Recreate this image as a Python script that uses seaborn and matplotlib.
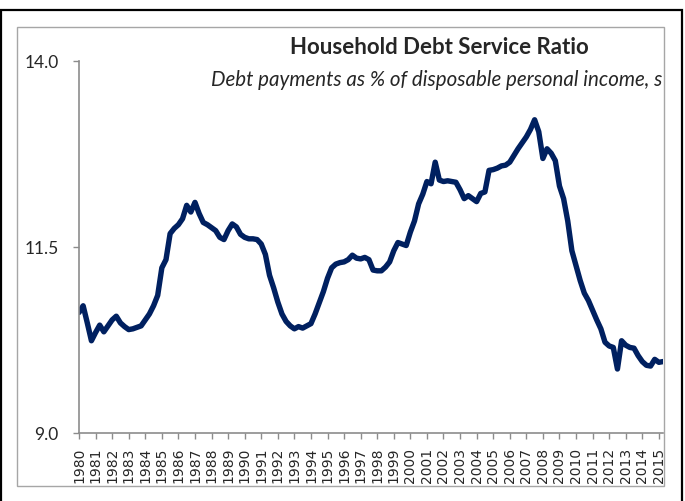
import numpy as np
import pandas as pd
import matplotlib
matplotlib.use('Agg')
import matplotlib.pyplot as plt
import seaborn as sns
from matplotlib.patches import Rectangle

# quarterly debt service ratio, 1980Q1 - 2015Q2
dsr_by_year = {
    1980: [10.62, 10.71, 10.48, 10.24],
    1981: [10.35, 10.45, 10.36, 10.44],
    1982: [10.52, 10.57, 10.48, 10.43],
    1983: [10.39, 10.40, 10.42, 10.44],
    1984: [10.52, 10.60, 10.71, 10.85],
    1985: [11.22, 11.33, 11.68, 11.75],
    1986: [11.80, 11.88, 12.06, 11.97],
    1987: [12.10, 11.95, 11.83, 11.80],
    1988: [11.76, 11.72, 11.63, 11.60],
    1989: [11.72, 11.81, 11.77, 11.67],
    1990: [11.63, 11.61, 11.61, 11.60],
    1991: [11.54, 11.40, 11.12, 10.95],
    1992: [10.76, 10.60, 10.50, 10.44],
    1993: [10.40, 10.43, 10.41, 10.44],
    1994: [10.47, 10.60, 10.75, 10.90],
    1995: [11.08, 11.22, 11.27, 11.29],
    1996: [11.30, 11.33, 11.39, 11.35],
    1997: [11.34, 11.36, 11.33, 11.19],
    1998: [11.18, 11.18, 11.23, 11.30],
    1999: [11.45, 11.56, 11.54, 11.52],
    2000: [11.70, 11.85, 12.08, 12.21],
    2001: [12.38, 12.35, 12.64, 12.40],
    2002: [12.38, 12.39, 12.38, 12.37],
    2003: [12.27, 12.15, 12.19, 12.15],
    2004: [12.11, 12.22, 12.24, 12.53],
    2005: [12.54, 12.56, 12.59, 12.60],
    2006: [12.64, 12.73, 12.82, 12.90],
    2007: [12.98, 13.08, 13.21, 13.05],
    2008: [12.69, 12.82, 12.76, 12.66],
    2009: [12.32, 12.15, 11.85, 11.45],
    2010: [11.25, 11.05, 10.88, 10.78],
    2011: [10.65, 10.52, 10.40, 10.22],
    2012: [10.17, 10.15, 9.86, 10.24],
    2013: [10.18, 10.15, 10.14, 10.04],
    2014: [9.96, 9.91, 9.90, 9.99],
    2015: [9.95, 9.96],
}

years = list(range(1980, 2016))
y_ticks = [9.0, 11.5, 14.0]

rows = []
for yr, vals in dsr_by_year.items():
    for q, v in enumerate(vals):
        rows.append({'t': yr + q * 0.25, 'dsr': v})
df = pd.DataFrame(rows)

sns.set_style('white')
plt.rcParams['font.family'] = ['DejaVu Sans']

W, H = 685, 502
fig = plt.figure(figsize=(W / 100, H / 100), dpi=100)
fig.patch.set_facecolor('white')

ax = fig.add_axes([79 / W, 1 - 434 / H, (663 - 79) / W, (434 - 62) / H])
sns.lineplot(data=df, x='t', y='dsr', ax=ax, color='#002060', linewidth=3.9)

ax.set_xlim(1980, 2015.25)
ax.set_ylim(9.0, 14.0)
ax.set_yticks(y_ticks)
ax.set_yticklabels([f'{v:.1f}' for v in y_ticks], fontsize=12.5,
                   family=['Lato', 'DejaVu Sans'])
ax.set_xticks(years)
ax.set_xticklabels([str(y) for y in years], rotation=90, fontsize=10)
ax.set_xlabel('')
ax.set_ylabel('')

gray = '#8c8c8c'
for s in ['top', 'right']:
    ax.spines[s].set_visible(False)
for s in ['left', 'bottom']:
    ax.spines[s].set_color(gray)
    ax.spines[s].set_linewidth(1.2)
ax.tick_params(axis='y', length=4.5, width=1, color=gray, pad=10, direction='out', left=True)
ax.tick_params(axis='x', length=4, width=1, color=gray, pad=6, direction='out', bottom=True)
ax.grid(False)

# titles
fig.text(439 / W, 1 - 48 / H, 'Household Debt Service Ratio', ha='center', va='center',
         fontsize=16, fontweight='bold', family=['Lato', 'DejaVu Sans'])
fig.text(662 / W, 1 - 80 / H, 'Debt payments as % of disposable personal income, s',
         ha='right', va='center', fontsize=14.8, style='italic',
         family=['Lato', 'DejaVu Sans'])

# chart frames
fig.add_artist(Rectangle((1 / W, -0.1), (682 - 1) / W, 1 - 11 / H + 0.1,
                         transform=fig.transFigure, fill=False, ec='black', lw=1.6))
fig.add_artist(Rectangle((17 / W, 1 - 487 / H), (664 - 17) / W, (487 - 28) / H,
                         transform=fig.transFigure, fill=False, ec='#a6a6a6', lw=1.0))

plt.savefig('out.png', dpi=100)
plt.close(fig)
